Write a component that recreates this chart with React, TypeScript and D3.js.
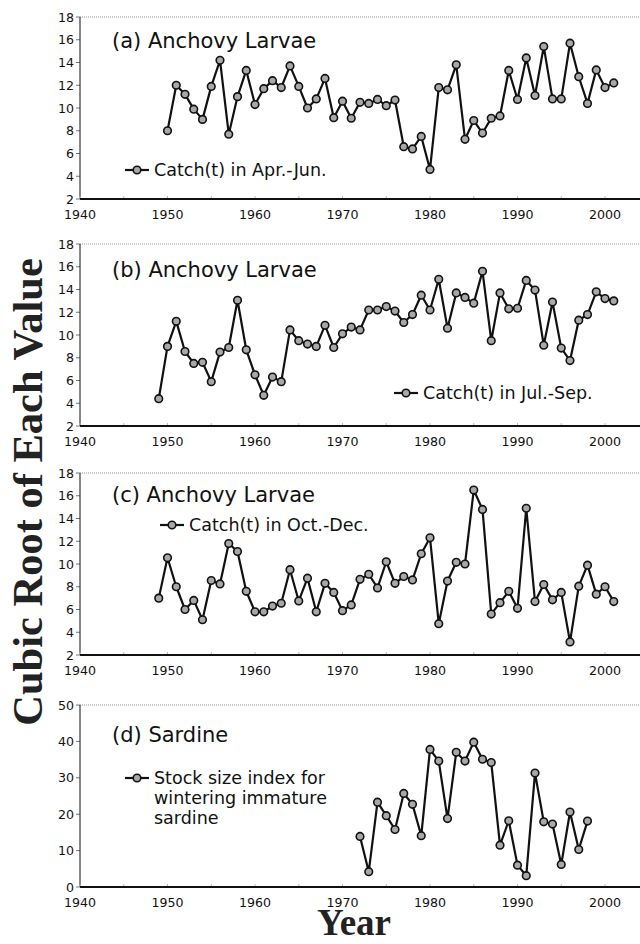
import * as d3 from 'd3';

// cubic root values
const aprJunStart = 1950;
const aprJun = [
  8.0, 12.0, 11.2, 9.9, 9.0, 11.9, 14.2, 7.7, 11.0, 13.3,
  10.3, 11.7, 12.4, 11.8, 13.7, 11.9, 10.0, 10.8, 12.6, 9.15,
  10.6, 9.1, 10.5, 10.4, 10.75, 10.2, 10.7, 6.6, 6.4, 7.5,
  4.6, 11.8, 11.6, 13.8, 7.25, 8.9, 7.8, 9.1, 9.3, 13.3,
  10.75, 14.4, 11.1, 15.4, 10.8, 10.8, 15.7, 12.75, 10.4, 13.35,
  11.8, 12.2,
];

const julSepStart = 1949;
const julSep = [
  4.4, 9.0, 11.2, 8.55, 7.5, 7.6, 5.9, 8.5, 8.9, 13.05,
  8.7, 6.5, 4.7, 6.3, 5.9, 10.45, 9.5, 9.2, 9.0, 10.85,
  8.9, 10.1, 10.7, 10.45, 12.2, 12.2, 12.5, 12.1, 11.1, 11.8,
  13.5, 12.2, 14.9, 10.6, 13.7, 13.3, 12.8, 15.6, 9.5, 13.7,
  12.3, 12.35, 14.8, 13.95, 9.1, 12.9, 8.85, 7.75, 11.3, 11.8,
  13.8, 13.2, 13.0,
];

const octDecStart = 1949;
const octDec = [
  7.0, 10.55, 8.0, 6.0, 6.8, 5.1, 8.55, 8.25, 11.8, 11.1,
  7.6, 5.8, 5.8, 6.3, 6.55, 9.5, 6.75, 8.75, 5.8, 8.3,
  7.5, 5.9, 6.4, 8.65, 9.1, 7.9, 10.2, 8.3, 8.9, 8.6,
  10.9, 12.3, 4.75, 8.5, 10.15, 10.0, 16.5, 14.8, 5.6, 6.6,
  7.6, 6.1, 14.9, 6.7, 8.2, 6.85, 7.5, 3.15, 8.05, 9.9,
  7.35, 8.0, 6.7,
];

const sardineStart = 1972;
const sardine = [
  13.9, 4.2, 23.3, 19.6, 15.8, 25.7, 22.7, 14.1, 37.8, 34.6,
  18.8, 37.0, 34.6, 39.8, 35.1, 34.2, 11.5, 18.2, 6.0, 3.1,
  31.3, 17.9, 17.3, 6.2, 20.6, 10.3, 18.1,
];

const xTicks = [1940, 1950, 1960, 1970, 1980, 1990, 2000];
const larvaeTicks = [2, 4, 6, 8, 10, 12, 14, 16, 18];
const sardineTicks = [0, 10, 20, 30, 40, 50];

const panels = [
  { title: '(a) Anchovy Larvae', legend: ['Catch(t) in Apr.-Jun.'], start: aprJunStart, values: aprJun, ticks: larvaeTicks },
  { title: '(b) Anchovy Larvae', legend: ['Catch(t) in Jul.-Sep.'], start: julSepStart, values: julSep, ticks: larvaeTicks },
  { title: '(c) Anchovy Larvae', legend: ['Catch(t) in Oct.-Dec.'], start: octDecStart, values: octDec, ticks: larvaeTicks },
  { title: '(d) Sardine', legend: ['Stock size index for', 'wintering immature', 'sardine'], start: sardineStart, values: sardine, ticks: sardineTicks },
];

// layout of each panel (pixels)
const layout = [
  { top: 17, titleY: 48, legendX: 125, legendY: 170 },
  { top: 244, titleY: 277, legendX: 394, legendY: 393 },
  { top: 473, titleY: 502, legendX: 160, legendY: 525 },
  { top: 705, titleY: 742, legendX: 125, legendY: 778 },
];

const W = 640;
const H = 944;
const PH = 182;
const sans = 'DejaVu Sans, sans-serif';
const serif = 'Liberation Serif, Times New Roman, serif';

const x = d3.scaleLinear().domain([1940, 2005]).range([80, 648.75]);

const Marker = ({ cx, cy }) => (
  <circle cx={cx} cy={cy} r={3.8} fill="#a8a8a8" stroke="#111" strokeWidth={1.6} />
);

const Panel = ({ p, l }) => {
  const y = d3.scaleLinear()
    .domain(d3.extent(p.ticks) as [number, number])
    .range([l.top + PH, l.top]);
  const pts: [number, number][] = p.values.map((v, i) => [p.start + i, v]);
  const line = d3.line<[number, number]>().x(d => x(d[0])).y(d => y(d[1]));
  const bottom = l.top + PH;

  return (
    <g>
      {/* frame */}
      <line x1={80} x2={W} y1={l.top} y2={l.top} stroke="#999" strokeDasharray="1 1" />
      {p.ticks.map(t => (
        <line key={t} x1={76} x2={80} y1={y(t)} y2={y(t)} stroke="#777" />
      ))}
      <line x1={80} x2={80} y1={l.top} y2={bottom} stroke="#111" strokeWidth={1} />
      {xTicks.concat([1945, 1955, 1965, 1975, 1985, 1995]).map(t => (
        <line key={t} x1={x(t)} x2={x(t)} y1={bottom} y2={bottom - 3} stroke="#bbb" />
      ))}
      <line x1={80} x2={W} y1={bottom} y2={bottom} stroke="#111" strokeWidth={2} />

      {p.ticks.map(t => (
        <text key={t} x={74} y={y(t)} dy="0.36em" textAnchor="end"
          fontFamily={sans} fontSize={12.6} fill="#111">{t}</text>
      ))}
      {xTicks.map(t => (
        <text key={t} x={x(t)} y={bottom + 20} textAnchor="middle"
          fontFamily={sans} fontSize={12.6} fill="#111">{t}</text>
      ))}

      <text x={112} y={l.titleY} fontFamily={sans} fontSize={21} fill="#111">{p.title}</text>

      {/* legend */}
      <line x1={l.legendX} x2={l.legendX + 24} y1={l.legendY} y2={l.legendY} stroke="#111" strokeWidth={2.2} />
      <Marker cx={l.legendX + 12} cy={l.legendY} />
      {p.legend.map((s, i) => (
        <text key={i} x={l.legendX + 29} y={l.legendY + i * 20} dy="0.36em"
          fontFamily={sans} fontSize={17.5} fill="#111">{s}</text>
      ))}

      <path d={line(pts) ?? ''} fill="none" stroke="#111" strokeWidth={2.2} strokeLinejoin="round" />
      {pts.map(d => <Marker key={d[0]} cx={x(d[0])} cy={y(d[1])} />)}
    </g>
  );
};

export default function App() {
  return (
    <div style={{ position: 'absolute', left: 0, top: 0 }}>
      <svg width={W} height={H} style={{ display: 'block', background: '#fff' }}>
        {panels.map((p, i) => <Panel key={i} p={p} l={layout[i]} />)}
        <text transform="translate(42,492) rotate(-90)" textAnchor="middle"
          fontFamily={serif} fontWeight="bold" fontSize={42.5} fill="#222">Cubic Root of Each Value</text>
        <text x={354} y={935} textAnchor="middle"
          fontFamily={serif} fontWeight="bold" fontSize={37} fill="#222">Year</text>
      </svg>
    </div>
  );
}
